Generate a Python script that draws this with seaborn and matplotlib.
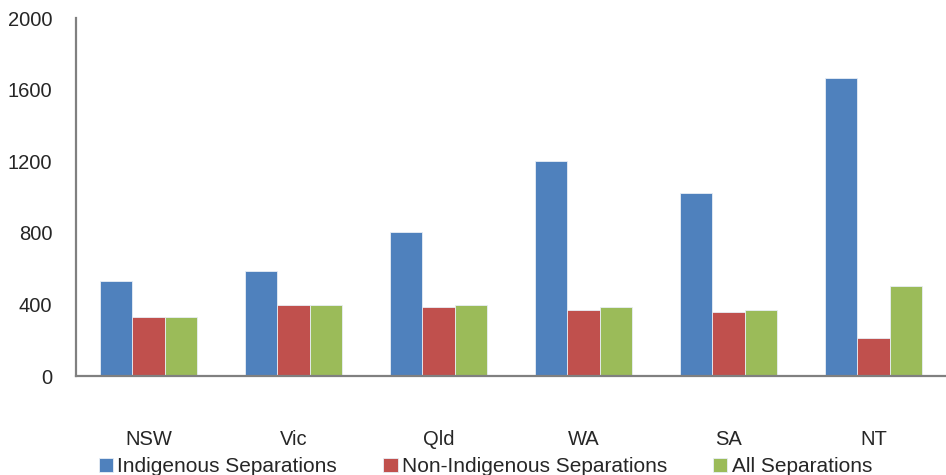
import pandas as pd
import matplotlib
matplotlib.use("Agg")
import matplotlib.pyplot as plt
import seaborn as sns

# values
states = ["NSW", "Vic", "Qld", "WA", "SA", "NT"]
indigenous = [530, 586, 805, 1199, 1025, 1665]
non_indigenous = [332, 395, 386, 367, 358, 213]
all_separations = [332, 395, 395, 386, 369, 504]
series_names = ["Indigenous Separations", "Non-Indigenous Separations", "All Separations"]
colors = ["#4F81BD", "#C0504D", "#9BBB59"]
yticks = [0, 400, 800, 1200, 1600, 2000]

df = pd.DataFrame({
    "State": states * 3,
    "Value": indigenous + non_indigenous + all_separations,
    "Series": [series_names[0]] * 6 + [series_names[1]] * 6 + [series_names[2]] * 6,
})

sns.set_style("white")
plt.rcParams["font.family"] = ["Liberation Sans", "DejaVu Sans"]

fig = plt.figure(figsize=(9.46, 4.75), dpi=100)
ax = fig.add_axes([0.0803, 0.2084, 0.9197, 0.7536])

sns.barplot(data=df, x="State", y="Value", hue="Series", order=states,
            hue_order=series_names, palette=colors, width=0.675, gap=0,
            saturation=1, edgecolor="#e8eef6", linewidth=0.6, ax=ax)

ax.set_ylim(0, 2000)
ax.set_xlim(-0.5, 5.5)
ax.set_yticks(yticks)
ax.set_yticklabels([str(t) for t in yticks])
ax.set_xlabel("")
ax.set_ylabel("")
ax.tick_params(axis="x", length=0, pad=39, labelsize=14.5)
ax.tick_params(axis="y", length=0, pad=17, labelsize=14.5)

for side in ["top", "right"]:
    ax.spines[side].set_visible(False)
for side in ["left", "bottom"]:
    ax.spines[side].set_color("#808080")
    ax.spines[side].set_linewidth(1.6)

handles, labels = ax.get_legend_handles_labels()
ax.get_legend().remove()
fig.legend(handles, labels, loc="center", bbox_to_anchor=(0.513, 0.017),
           ncol=3, frameon=False, fontsize=15, handlelength=0.7,
           handleheight=0.7, handletextpad=0.2, columnspacing=2.2)

fig.savefig("out.png", dpi=100)
